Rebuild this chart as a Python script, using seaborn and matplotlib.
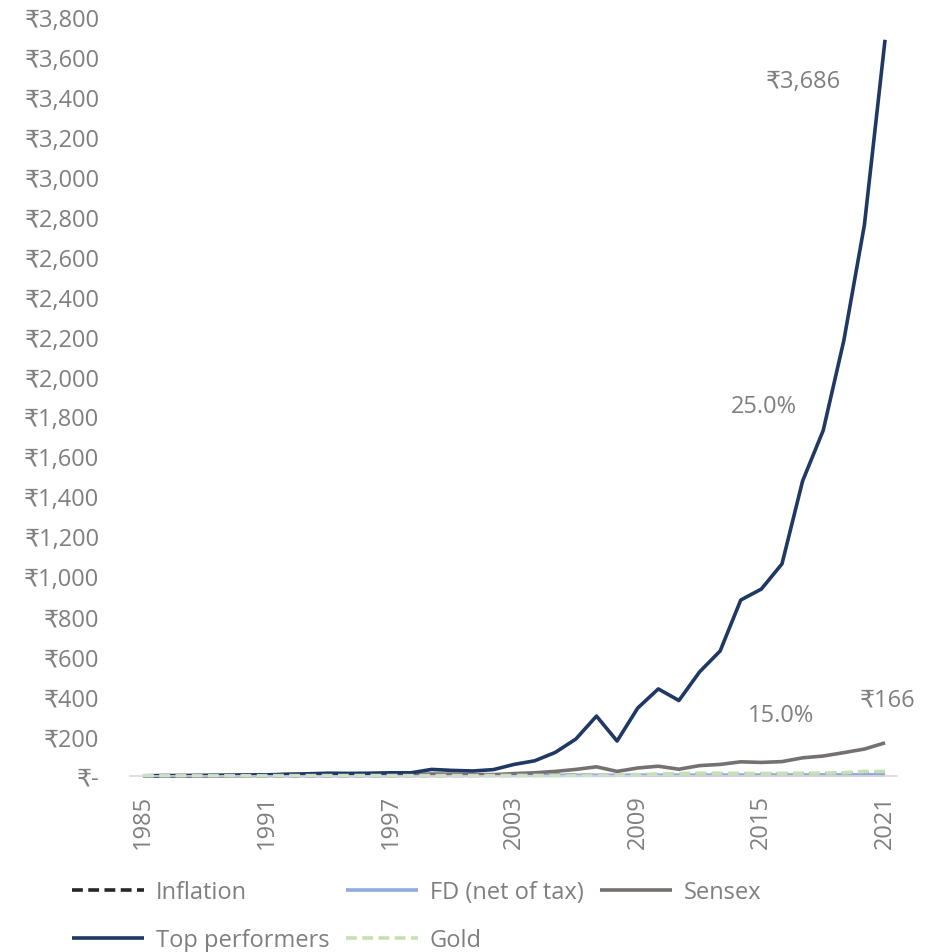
import pandas as pd
import matplotlib
matplotlib.use("Agg")
import matplotlib.pyplot as plt
import seaborn as sns
from matplotlib.ticker import FuncFormatter

# --- Data (growth of ₹1 invested in 1985) ---
years = list(range(1985, 2022))

inflation = [1.00, 1.09, 1.18, 1.29, 1.37, 1.49, 1.69, 1.90, 2.02, 2.22, 2.45, 2.67, 2.86,
             3.24, 3.39, 3.52, 3.65, 3.81, 3.95, 4.11, 4.28, 4.53, 4.82, 5.22, 5.78, 6.49,
             7.07, 7.77, 8.54, 9.09, 9.53, 9.96, 10.32, 10.67, 11.08, 11.82, 12.43]
fd_net = [1.00, 1.07, 1.14, 1.21, 1.29, 1.38, 1.47, 1.57, 1.67, 1.77, 1.89, 2.02, 2.15,
          2.28, 2.42, 2.56, 2.70, 2.83, 2.95, 3.07, 3.19, 3.32, 3.47, 3.63, 3.79, 3.94,
          4.10, 4.28, 4.46, 4.65, 4.84, 5.02, 5.19, 5.37, 5.55, 5.71, 5.87]
sensex = [1.0, 2.0, 1.6, 1.8, 2.2, 3.5, 4.0, 9, 8, 9, 7, 7, 8,
          7, 10, 9, 7, 7, 12, 16, 23, 33, 46, 23, 40, 49,
          34, 52, 58, 71, 68, 72, 91, 100, 117, 135, 166]
top_performers = [1.0, 1.6, 2.2, 3, 4, 5, 6, 8, 11, 14, 13, 14, 16,
                  16, 33, 28, 25, 32, 58, 76, 118, 185, 300, 175, 340, 436,
                  378, 521, 626, 881, 936, 1062, 1477, 1730, 2180, 2760, 3686]
gold = [1.00, 1.00, 1.21, 1.47, 1.47, 1.50, 1.63, 2.03, 1.94, 2.16, 2.20, 2.42, 2.22,
        1.90, 1.99, 2.07, 2.02, 2.34, 2.63, 2.75, 3.29, 3.94, 5.07, 5.87, 6.81, 8.69,
        12.4, 14.6, 13.9, 13.1, 12.4, 13.4, 13.9, 14.8, 16.5, 22.8, 22.9]

series_names = ["Inflation", "FD (net of tax)", "Sensex", "Top performers", "Gold"]
series_values = [inflation, fd_net, sensex, top_performers, gold]
series_colors = ["#262626", "#8FAADC", "#767171", "#1F3864", "#C5E0B4"]
series_dashed = [True, False, False, False, True]

df = pd.DataFrame({"Year": years})
for name, vals in zip(series_names, series_values):
    df[name] = vals

sns.set_style("white")
plt.rcParams["font.family"] = ["Open Sans", "DejaVu Sans"]

TEXT_GRAY = "#7F7F7F"
FS = 17

fig = plt.figure(figsize=(9.35, 9.53), dpi=100)
ax = fig.add_axes([130 / 935, 1 - 777 / 953, 767 / 935, 759 / 953])

handles = {}
for name, color, dashed in zip(series_names, series_colors, series_dashed):
    sns.lineplot(data=df, x="Year", y=name, ax=ax, color=color, linewidth=2.6,
                 label=name, clip_on=False)
    line = ax.lines[-1]
    if dashed:
        line.set_dashes((3, 1.5))
    line.set_solid_capstyle("butt")
    handles[name] = line

ax.set_xlim(1984.37, 2021.58)
ax.set_ylim(0, 3800)
ax.set_yticks(range(0, 3801, 200))
ax.yaxis.set_major_formatter(FuncFormatter(lambda v, p: "₹-" if v == 0 else f"₹{int(v):,}"))
ax.set_xticks(range(1985, 2022, 6))
ax.set_xlabel("")
ax.set_ylabel("")

for s in ["top", "right", "left"]:
    ax.spines[s].set_visible(False)
ax.spines["bottom"].set_color("#D9D9D9")
ax.spines["bottom"].set_linewidth(1.2)

ax.tick_params(axis="y", length=0, pad=22, labelsize=FS, labelcolor=TEXT_GRAY)
ax.tick_params(axis="x", length=5, width=1, color="#D9D9D9", direction="out",
               pad=8, labelsize=FS, labelcolor=TEXT_GRAY, labelrotation=90)
ax.grid(False)

# Annotations
ann = [("₹3,686", 2017.02, 3449), ("25.0%", 2015.13, 1822),
       ("15.0%", 2015.95, 275), ("₹166", 2021.1, 355)]
for txt, x, y in ann:
    ax.text(x, y, txt, ha="center", va="baseline", fontsize=FS, color=TEXT_GRAY)

# Legend (two rows, column-aligned like the original)
ax.get_legend().remove()
order = ["Inflation", "Top performers", "FD (net of tax)", "Gold", "Sensex"]
fig.legend([handles[n] for n in order], order, ncol=3, frameon=False,
           loc="upper left", bbox_to_anchor=(72 / 935, 1 - 881 / 953),
           borderpad=0, borderaxespad=0, fontsize=FS, labelcolor=TEXT_GRAY,
           handlelength=3.05, handletextpad=0.5, columnspacing=0.7,
           labelspacing=1.02)

fig.savefig("out.png", dpi=100)
